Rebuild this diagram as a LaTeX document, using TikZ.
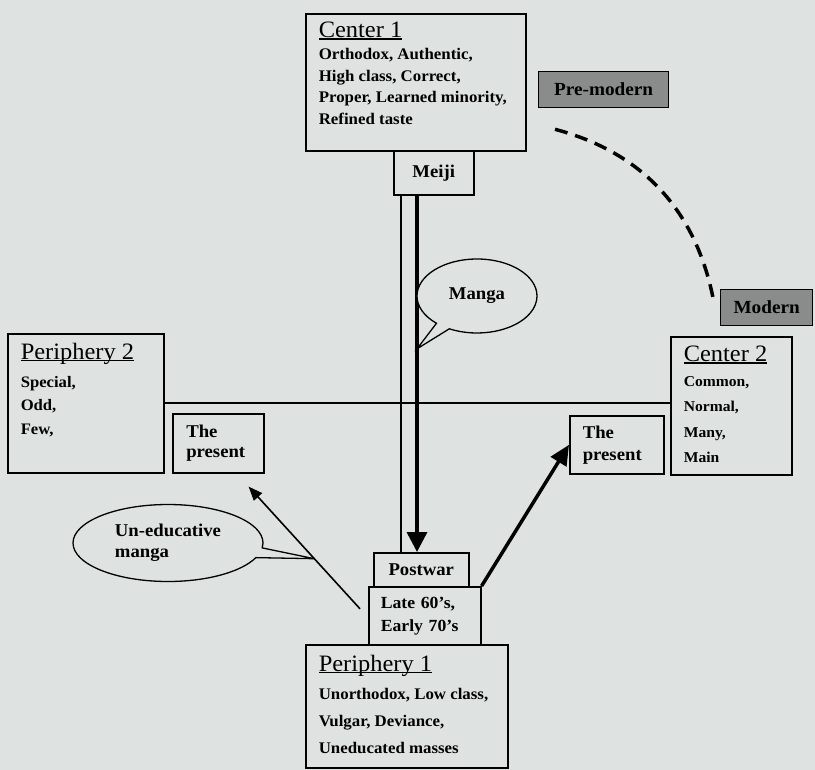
\documentclass[tikz,border=0pt]{standalone}
\usepackage{fontspec}
\setmainfont[FakeStretch=1.04]{Liberation Serif}
\usetikzlibrary{arrows.meta,calc,shapes.callouts}

\definecolor{paper}{RGB}{222,227,225}
\definecolor{eragray}{RGB}{138,140,139}

% underlined heading of the big boxes
\newcommand\tagline[1]{\leavevmode{\fontsize{23.5}{23.5}\mdseries\selectfont
  \setbox0\hbox{#1}\rlap{\rule[-2.2pt]{\wd0}{1.1pt}}\box0}}
% text block of fixed height, top aligned
\newcommand\boxtext[4]{\parbox[t][#1][t]{#2}{\vspace*{#3}#4}}

\tikzset{
  box/.style={draw, line width=1.6pt, anchor=north west, inner xsep=13pt, inner ysep=0pt},
  timebox/.style={draw, line width=1.6pt, anchor=north west, inner sep=0pt, font=\bfseries\fontsize{18}{22}\selectfont},
  erabox/.style={draw, line width=1.3pt, fill=eragray, anchor=north west, inner sep=0pt, minimum height=36pt, font=\bfseries\fontsize{18.5}{19}\selectfont},
  bubble/.style={ellipse callout, draw, line width=1.3pt, fill=paper, inner sep=0pt, font=\bfseries\fontsize{18}{21}\selectfont},
}

\begin{document}
\begin{tikzpicture}[x=1pt, y=-1pt]
	\fill[paper] (0,0) rectangle (815,770);
	\useasboundingbox (0,0) rectangle (815,770);

	% the four groups
	\node[box, font=\bfseries\fontsize{16.2}{21.5}\selectfont] (center1) at (305,13)
		{\boxtext{137pt}{194pt}{8pt}{\tagline{Center 1}\\[1pt] Orthodox, Authentic,\\ High class, Correct,\\ Proper, Learned minority,\\ Refined taste}};
	\node[box, font=\bfseries\fontsize{16}{23.5}\selectfont] (periph2) at (7,333)
		{\boxtext{139pt}{130pt}{9pt}{\tagline{Periphery 2}\\[4.5pt] Special,\\ Odd,\\ Few,}};
	\node[box, font=\bfseries\fontsize{15}{25.5}\selectfont] (center2) at (670,336)
		{\boxtext{138pt}{95pt}{9pt}{\tagline{Center 2}\\[-0.5pt] Common,\\ Normal,\\ Many,\\ Main}};
	\node[box, font=\bfseries\fontsize{16.2}{27}\selectfont] (periph1) at (305,644)
		{\boxtext{123pt}{176pt}{10pt}{\tagline{Periphery 1}\\[1pt] Unorthodox, Low class,\\ Vulgar, Deviance,\\ Uneducated masses}};

	% periods
	\node[timebox, minimum width=80pt, minimum height=44pt] (meiji) at (393,150) {Meiji};
	\node[timebox, minimum width=95pt, minimum height=34pt] (postwar) at (373,552) {Postwar};
	\node[timebox, minimum width=112pt, minimum height=58pt, text width=88pt, align=left, font=\bfseries\fontsize{17}{23}\selectfont] (late) at (368,586) {Late 60's,\\ Early 70's};
	\node[timebox, minimum width=91pt, minimum height=59pt, text width=64pt, align=left, font=\bfseries\fontsize{18}{20}\selectfont] (nowleft) at (172,413) {The\\ present};
	\node[timebox, minimum width=94pt, minimum height=58pt, text width=68pt, align=left, font=\bfseries\fontsize{18}{22}\selectfont] (nowright) at (569,415) {The\\ present};

	\node[erabox, minimum width=130pt] (premodern) at (538,71) {Pre-modern};
	\node[erabox, minimum width=92pt] (modern) at (720,289) {Modern};

	% axes and arrows
	\draw[line width=1.6pt] (periph2.east) -- (periph2.east -| center2.west);
	\draw[line width=1.6pt] ($(meiji.south west)+(8,0)$) -- ($(postwar.north west)+(28,0)$);
	\draw[line width=3.5pt, -{Triangle[length=20pt,width=20pt]}] ($(meiji.south west)+(24,0)$) -- ($(postwar.north west)+(44,0)$) coordinate[pos=0.43] (mangatip);
	\draw[line width=1.6pt, -{Triangle[length=14pt,width=11pt]}] ($(late.west)+(-8,-7)$) -- ($(nowleft.south east)+(-16,13)$) coordinate[pos=0.41] (ledutip);
	\draw[line width=3.5pt, -{Triangle[length=20pt,width=18pt]}] (late.north east) -- (nowright.west);

	\draw[line width=3.5pt, dash pattern=on 13pt off 8pt] ($(premodern.south west)+(17,21)$) .. controls +(87,23) and +(-18,-88) .. ($(modern.west)+(-7,-10)$);

	% speech bubbles
	\node[bubble, minimum width=120pt, minimum height=74pt, callout absolute pointer={(mangatip)}] (manga) at (477,296) {Manga};
	\node[bubble, minimum width=190pt, minimum height=77pt, align=left, callout absolute pointer={(ledutip)}] (unedu) at (168,543) {Un-educative\\ manga};
\end{tikzpicture}
\end{document}
